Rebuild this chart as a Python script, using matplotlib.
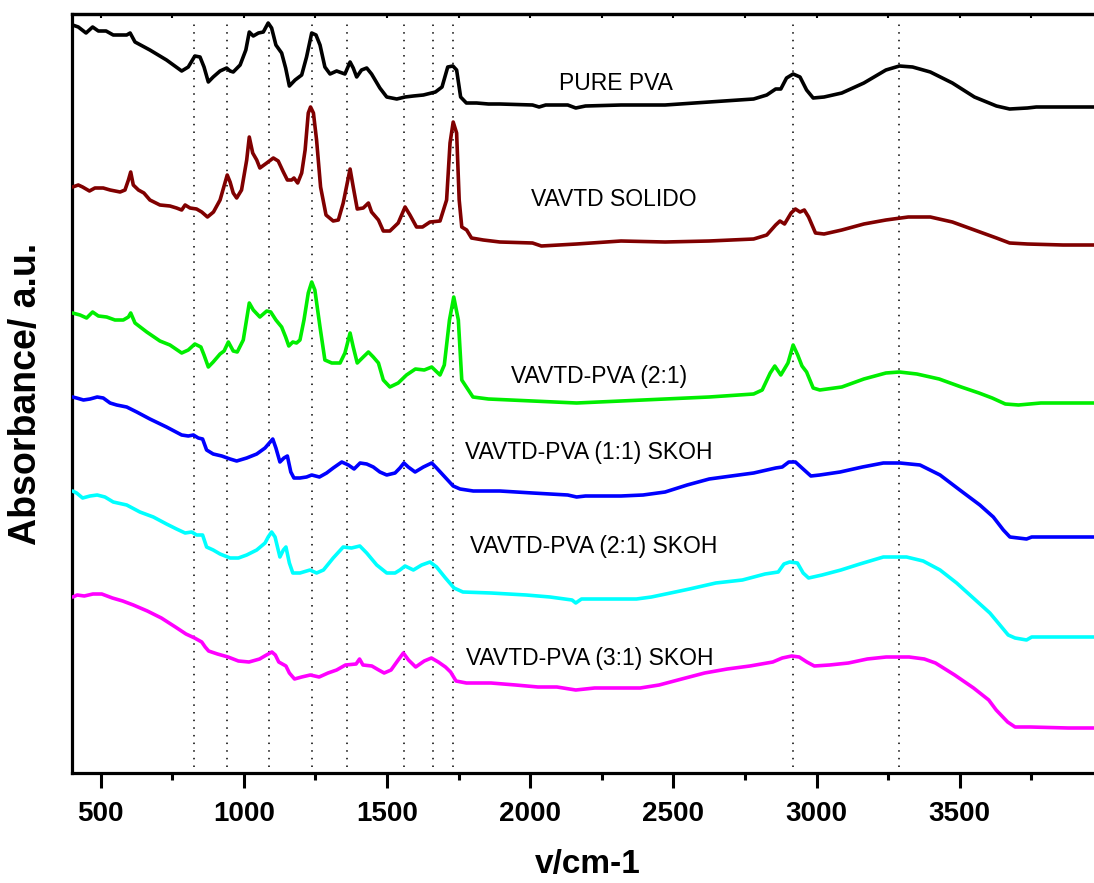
import matplotlib
matplotlib.use('Agg')
import matplotlib.pyplot as plt
import numpy as np

plt.rcParams['font.family'] = ['Liberation Sans', 'DejaVu Sans']

# FTIR spectra (wavenumber cm-1, absorbance a.u., curves offset)
pure_pva = [(402, 7.48), (422, 7.46), (449, 7.40), (472, 7.46), (492, 7.42), (519, 7.42), (544, 7.38),
            (591, 7.38), (603, 7.40), (620, 7.31), (672, 7.23), (730, 7.13), (783, 7.02), (806, 7.06),
            (829, 7.17), (847, 7.16), (861, 7.06), (876, 6.91), (893, 6.96), (917, 7.02), (940, 7.05),
            (952, 7.02), (963, 7.01), (987, 7.08), (1007, 7.23), (1019, 7.41), (1033, 7.37), (1051, 7.40),
            (1068, 7.41), (1085, 7.50), (1097, 7.45), (1112, 7.28), (1132, 7.20), (1146, 7.05), (1159, 6.87),
            (1179, 6.93), (1202, 6.98), (1219, 7.16), (1237, 7.40), (1252, 7.38), (1266, 7.28), (1283, 7.06),
            (1301, 6.99), (1324, 7.02), (1353, 6.99), (1371, 7.11), (1382, 7.05), (1394, 6.96), (1411, 7.03),
            (1429, 7.05), (1446, 6.99), (1475, 6.85), (1499, 6.76), (1534, 6.74), (1563, 6.76), (1592, 6.77),
            (1627, 6.78), (1669, 6.81), (1692, 6.86), (1712, 7.06), (1730, 7.07), (1743, 7.03), (1757, 6.76),
            (1777, 6.70), (1813, 6.70), (1854, 6.69), (1894, 6.69), (2008, 6.68), (2031, 6.66), (2054, 6.68),
            (2131, 6.68), (2159, 6.65), (2193, 6.67), (2317, 6.68), (2471, 6.68), (2625, 6.71), (2780, 6.74),
            (2826, 6.78), (2857, 6.84), (2875, 6.84), (2895, 6.95), (2918, 6.99), (2942, 6.96), (2965, 6.83),
            (2988, 6.75), (3026, 6.76), (3088, 6.80), (3165, 6.90), (3242, 7.03), (3289, 7.07), (3335, 7.06),
            (3397, 7.01), (3474, 6.90), (3551, 6.76), (3628, 6.67), (3674, 6.64), (3736, 6.65), (3767, 6.66),
            (3860, 6.66), (4000, 6.66)]

vavtd_solido = [(402, 5.86), (422, 5.88), (437, 5.86), (461, 5.82), (480, 5.85), (509, 5.85), (533, 5.83),
                (568, 5.81), (585, 5.83), (597, 5.93), (605, 6.01), (614, 5.88), (632, 5.83), (651, 5.80),
                (672, 5.73), (707, 5.68), (742, 5.67), (765, 5.65), (783, 5.63), (795, 5.68), (812, 5.65),
                (835, 5.64), (853, 5.61), (873, 5.56), (894, 5.61), (917, 5.73), (942, 5.98), (952, 5.91),
                (963, 5.80), (975, 5.75), (992, 5.83), (1010, 6.13), (1019, 6.36), (1031, 6.20), (1045, 6.13),
                (1056, 6.05), (1080, 6.10), (1103, 6.15), (1120, 6.12), (1138, 6.01), (1152, 5.93), (1167, 5.93),
                (1175, 5.95), (1188, 5.90), (1202, 6.00), (1214, 6.23), (1225, 6.60), (1233, 6.66), (1243, 6.60),
                (1254, 6.33), (1268, 5.86), (1287, 5.58), (1312, 5.52), (1330, 5.53), (1347, 5.70), (1371, 6.04),
                (1382, 5.86), (1396, 5.64), (1417, 5.65), (1435, 5.70), (1446, 5.61), (1470, 5.53), (1487, 5.42),
                (1510, 5.42), (1539, 5.50), (1563, 5.66), (1580, 5.58), (1603, 5.46), (1624, 5.46), (1650, 5.51),
                (1685, 5.52), (1708, 5.73), (1720, 6.30), (1731, 6.51), (1743, 6.40), (1752, 5.73), (1761, 5.46),
                (1778, 5.43), (1795, 5.35), (1836, 5.33), (1894, 5.31), (2008, 5.30), (2039, 5.27), (2162, 5.29),
                (2317, 5.32), (2471, 5.31), (2625, 5.32), (2780, 5.34), (2826, 5.38), (2857, 5.48), (2872, 5.52),
                (2888, 5.49), (2911, 5.60), (2926, 5.64), (2942, 5.61), (2957, 5.63), (2972, 5.56), (2996, 5.40),
                (3026, 5.39), (3088, 5.43), (3165, 5.49), (3242, 5.53), (3320, 5.56), (3397, 5.56), (3474, 5.51),
                (3551, 5.43), (3628, 5.35), (3674, 5.30), (3736, 5.29), (3860, 5.28), (4000, 5.28)]

pva_21 = [(402, 4.60), (428, 4.58), (451, 4.55), (472, 4.61), (492, 4.57), (521, 4.56), (550, 4.53),
          (579, 4.53), (597, 4.56), (605, 4.60), (620, 4.50), (661, 4.41), (707, 4.32), (742, 4.28),
          (783, 4.20), (806, 4.23), (829, 4.29), (850, 4.26), (861, 4.18), (876, 4.06), (893, 4.11),
          (917, 4.19), (931, 4.22), (946, 4.31), (963, 4.22), (977, 4.21), (998, 4.33), (1019, 4.70),
          (1033, 4.63), (1056, 4.56), (1080, 4.62), (1094, 4.61), (1112, 4.53), (1132, 4.46), (1146, 4.36),
          (1157, 4.27), (1171, 4.31), (1184, 4.30), (1196, 4.33), (1210, 4.53), (1225, 4.80), (1237, 4.91),
          (1248, 4.83), (1266, 4.46), (1283, 4.13), (1307, 4.10), (1336, 4.10), (1353, 4.20), (1371, 4.40),
          (1382, 4.26), (1396, 4.10), (1417, 4.16), (1435, 4.21), (1452, 4.16), (1470, 4.10), (1487, 3.93),
          (1510, 3.86), (1539, 3.90), (1568, 3.98), (1599, 4.04), (1630, 4.03), (1656, 4.06), (1685, 3.98),
          (1700, 4.08), (1718, 4.53), (1733, 4.76), (1749, 4.53), (1761, 3.93), (1777, 3.86), (1800, 3.76),
          (1854, 3.74), (2008, 3.72), (2162, 3.70), (2317, 3.72), (2471, 3.74), (2625, 3.76), (2780, 3.79),
          (2810, 3.83), (2838, 4.00), (2854, 4.07), (2875, 3.98), (2900, 4.10), (2918, 4.28), (2934, 4.18),
          (2949, 4.07), (2965, 4.01), (2988, 3.85), (3011, 3.83), (3088, 3.86), (3165, 3.94), (3242, 4.00),
          (3289, 4.01), (3350, 3.99), (3428, 3.94), (3505, 3.86), (3567, 3.80), (3613, 3.75), (3659, 3.69),
          (3705, 3.68), (3783, 3.70), (3860, 3.70), (4000, 3.70)]

skoh_11 = [(402, 3.76), (416, 3.75), (440, 3.73), (463, 3.74), (488, 3.76), (509, 3.75), (533, 3.70),
           (556, 3.68), (591, 3.66), (626, 3.61), (672, 3.54), (730, 3.46), (783, 3.38), (806, 3.37),
           (824, 3.38), (841, 3.35), (856, 3.34), (870, 3.23), (893, 3.19), (923, 3.17), (952, 3.14),
           (975, 3.12), (1010, 3.15), (1045, 3.19), (1074, 3.25), (1089, 3.30), (1101, 3.34), (1112, 3.25),
           (1126, 3.11), (1140, 3.15), (1152, 3.17), (1164, 3.01), (1175, 2.95), (1196, 2.95), (1219, 2.96),
           (1237, 2.98), (1264, 2.96), (1289, 3.00), (1312, 3.05), (1342, 3.11), (1365, 3.08), (1385, 3.04),
           (1406, 3.10), (1429, 3.09), (1452, 3.06), (1475, 3.01), (1499, 2.98), (1528, 3.00), (1545, 3.05),
           (1559, 3.10), (1574, 3.06), (1598, 3.01), (1627, 3.06), (1656, 3.10), (1673, 3.05), (1702, 2.96),
           (1731, 2.87), (1755, 2.84), (1801, 2.82), (1894, 2.82), (2008, 2.80), (2131, 2.78), (2162, 2.76),
           (2193, 2.77), (2317, 2.77), (2394, 2.78), (2471, 2.81), (2548, 2.88), (2625, 2.94), (2702, 2.97),
           (2780, 3.00), (2857, 3.05), (2880, 3.06), (2903, 3.11), (2926, 3.11), (2949, 3.05), (2980, 2.97),
           (3011, 2.98), (3082, 3.01), (3160, 3.06), (3233, 3.10), (3291, 3.10), (3361, 3.08), (3431, 2.98),
           (3500, 2.83), (3570, 2.68), (3617, 2.56), (3652, 2.43), (3675, 2.36), (3733, 2.34), (3751, 2.36),
           (4000, 2.36)]

skoh_21 = [(402, 2.82), (416, 2.80), (437, 2.75), (463, 2.77), (488, 2.78), (515, 2.76), (544, 2.71),
           (591, 2.68), (637, 2.61), (684, 2.56), (730, 2.49), (765, 2.44), (795, 2.40), (818, 2.41),
           (835, 2.38), (856, 2.38), (870, 2.26), (893, 2.23), (917, 2.19), (952, 2.15), (981, 2.15),
           (1010, 2.18), (1045, 2.23), (1074, 2.30), (1085, 2.36), (1097, 2.41), (1109, 2.36), (1126, 2.16),
           (1138, 2.23), (1147, 2.26), (1159, 2.10), (1171, 2.00), (1196, 2.00), (1231, 2.03), (1254, 2.00),
           (1278, 2.03), (1312, 2.15), (1347, 2.26), (1376, 2.25), (1405, 2.27), (1429, 2.20), (1464, 2.08),
           (1499, 2.00), (1528, 2.00), (1545, 2.03), (1563, 2.07), (1592, 2.03), (1621, 2.08), (1650, 2.11),
           (1673, 2.06), (1704, 1.95), (1734, 1.85), (1765, 1.81), (1863, 1.80), (1986, 1.78), (2069, 1.76),
           (2146, 1.73), (2159, 1.70), (2179, 1.74), (2291, 1.74), (2371, 1.74), (2423, 1.76), (2490, 1.80),
           (2556, 1.84), (2648, 1.90), (2741, 1.93), (2820, 1.99), (2866, 2.01), (2886, 2.09), (2906, 2.11),
           (2933, 2.10), (2953, 2.00), (2972, 1.95), (3019, 1.98), (3085, 2.03), (3151, 2.09), (3233, 2.16),
           (3314, 2.16), (3372, 2.12), (3431, 2.03), (3489, 1.90), (3547, 1.75), (3605, 1.60), (3640, 1.48),
           (3669, 1.38), (3693, 1.35), (3733, 1.33), (3751, 1.36), (4000, 1.36)]

skoh_31 = [(403, 1.76), (418, 1.78), (443, 1.77), (473, 1.79), (504, 1.79), (541, 1.75), (577, 1.72),
           (614, 1.68), (663, 1.62), (712, 1.55), (761, 1.46), (798, 1.39), (828, 1.35), (853, 1.31),
           (865, 1.26), (877, 1.22), (908, 1.19), (945, 1.16), (981, 1.12), (1018, 1.11), (1055, 1.14),
           (1079, 1.18), (1098, 1.21), (1110, 1.18), (1122, 1.11), (1147, 1.07), (1159, 1.00), (1177, 0.94),
           (1202, 0.96), (1232, 0.98), (1263, 0.96), (1294, 1.00), (1324, 1.03), (1355, 1.08), (1392, 1.09),
           (1404, 1.14), (1416, 1.08), (1447, 1.07), (1471, 1.03), (1490, 1.00), (1514, 1.03), (1539, 1.13),
           (1557, 1.20), (1575, 1.13), (1600, 1.06), (1630, 1.12), (1655, 1.15), (1679, 1.11), (1704, 1.06),
           (1722, 1.01), (1741, 0.92), (1777, 0.90), (1863, 0.90), (1949, 0.88), (2027, 0.86), (2093, 0.86),
           (2159, 0.83), (2225, 0.85), (2291, 0.85), (2384, 0.85), (2450, 0.88), (2529, 0.94), (2609, 1.00),
           (2688, 1.04), (2767, 1.07), (2847, 1.11), (2880, 1.15), (2913, 1.17), (2939, 1.16), (2966, 1.11),
           (2992, 1.07), (3045, 1.08), (3111, 1.10), (3177, 1.14), (3243, 1.16), (3323, 1.16), (3376, 1.14),
           (3415, 1.10), (3482, 0.98), (3548, 0.85), (3601, 0.73), (3627, 0.63), (3667, 0.51), (3693, 0.46),
           (3746, 0.46), (3878, 0.45), (4000, 0.45)]

series = [pure_pva, vavtd_solido, pva_21, skoh_11, skoh_21, skoh_31]
colors = ['#000000', '#800000', '#00ee00', '#0000ff', '#00ffff', '#ff00ff']
labels = ['PURE PVA', 'VAVTD SOLIDO', 'VAVTD-PVA (2:1)', 'VAVTD-PVA (1:1) SKOH',
          'VAVTD-PVA (2:1) SKOH', 'VAVTD-PVA (3:1) SKOH']
label_x = [2298, 2291, 2240, 2205, 2221, 2207]
label_y = [6.89, 5.73, 3.96, 3.20, 2.26, 1.14]

# marked band positions
bands = [827, 940, 1089, 1238, 1359, 1560, 1659, 1732, 2917, 3289]

fig = plt.figure(figsize=(10.94, 8.83), dpi=100)
ax = fig.add_axes([72 / 1094, 110 / 883, 1031 / 1094, 759 / 883])

for b in bands:
    ax.axvline(b, ymin=0.008, ymax=0.992, color='black', lw=1.1, linestyle=(0, (1, 4)), zorder=1)

for s, c in zip(series, colors):
    wn, ab = np.array(s).T
    ax.plot(wn, ab, color=c, lw=2.6, zorder=3, solid_joinstyle='round', solid_capstyle='round')

for lab, x, y in zip(labels, label_x, label_y):
    ax.text(x, y, lab, fontsize=16.5, ha='center', va='center')

ax.set_xlim(400, 4000)
ax.set_ylim(0, 7.59)
ax.set_yticks([])
ax.set_xticks(np.arange(500, 4000, 500))
ax.set_xticks(np.arange(750, 4000, 500), minor=True)
ax.tick_params(axis='x', which='major', direction='out', length=11, width=2.2, pad=9,
               labelsize=20)
ax.tick_params(axis='x', which='minor', direction='out', length=5, width=2.2)
for t in ax.get_xticklabels():
    t.set_fontweight('bold')
for sp in ax.spines.values():
    sp.set_linewidth(2.3)

top = ax.secondary_xaxis('top')
top.set_xticks(np.arange(500, 4000, 250))
top.set_xticklabels([])
top.tick_params(axis='x', direction='in', length=3, width=1.5)
top.spines['top'].set_linewidth(2.3)

ax.set_xlabel('v/cm-1', fontsize=24, fontweight='bold', labelpad=16)
ax.set_ylabel('Absorbance/ a.u.', fontsize=27, fontweight='bold', labelpad=20)

fig.savefig('out.png', dpi=100)
